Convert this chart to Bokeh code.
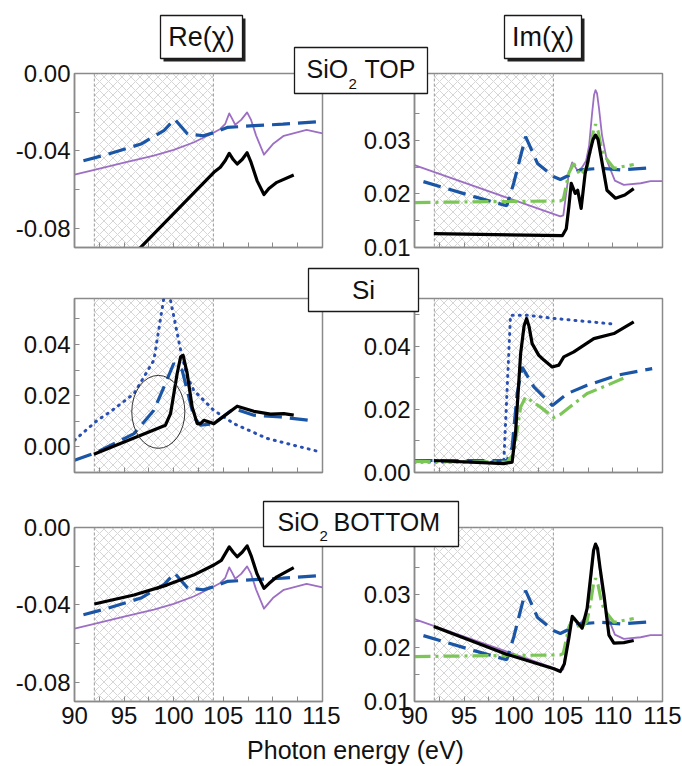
from bokeh.plotting import figure
from bokeh.models import (Range1d, FixedTicker, PrintfTickFormatter, BoxAnnotation,
                          Span, Label, GridBox, CustomJSTickFormatter, Column)
from bokeh.embed import file_html
from bokeh.resources import INLINE

FONT = "Liberation Sans"

# ---------------- data ----------------
X_TICKS = [90, 95, 100, 105, 110, 115]
X_MINOR = [92.5, 97.5, 102.5, 107.5, 112.5]
HATCH_RANGE = [92, 104]

# Re(chi), SiO2 (shared model curves top & bottom)
re_purple_x = [90, 92, 95, 98, 100, 102, 104.05, 104.7, 105.2, 105.6, 105.9, 106.2, 106.8, 107.4, 107.8, 108.3, 109.1, 110.0, 111.1, 113.4, 115]
re_purple_y = [-0.0523, -0.0499, -0.0461, -0.0425, -0.0395, -0.0357, -0.0305, -0.0287, -0.026, -0.0206, -0.0235, -0.0265, -0.024, -0.0201, -0.024, -0.032, -0.042, -0.0365, -0.0322, -0.0292, -0.031]
re_blue_x = [90.9, 93, 96.7, 99.0, 100.1, 101.4, 103.0, 104.05, 105.4, 108.1, 111, 115]
re_blue_y = [-0.0451, -0.0423, -0.0365, -0.0296, -0.0236, -0.0313, -0.0322, -0.0306, -0.0279, -0.027, -0.0262, -0.0248]
re_top_black_x = [92, 104.05, 104.7, 105.2, 105.6, 106.0, 106.4, 106.9, 107.4, 107.8, 108.4, 109.1, 109.6, 110.4, 112.1]
re_top_black_y = [-0.1145, -0.0511, -0.0485, -0.045, -0.0413, -0.0445, -0.0468, -0.0445, -0.041, -0.046, -0.0554, -0.0626, -0.0595, -0.0563, -0.0525]
re_bot_black_x = [92, 96, 99.3, 102, 104.05, 104.8, 105.2, 105.6, 106.0, 106.4, 106.9, 107.4, 107.8, 108.4, 109.1, 109.6, 110.4, 112.1]
re_bot_black_y = [-0.0396, -0.0349, -0.0298, -0.0246, -0.0194, -0.017, -0.0135, -0.010, -0.0128, -0.0151, -0.0128, -0.0095, -0.0145, -0.024, -0.0315, -0.029, -0.0255, -0.0208]

# Im(chi), SiO2
im_purple_x = [90, 104.7, 105.0, 105.56, 105.9, 106.5, 106.9, 107.3, 107.6, 107.9, 108.1, 108.25, 108.4, 108.6, 108.9, 109.4, 110.2, 111.1, 112.8, 113.8, 115]
im_purple_y = [0.0254, 0.0158, 0.016, 0.0239, 0.0259, 0.0242, 0.025, 0.0262, 0.029, 0.035, 0.0385, 0.0394, 0.0388, 0.036, 0.031, 0.0262, 0.0225, 0.0217, 0.022, 0.0224, 0.0224]
im_blue_x = [90.9, 96, 99.3, 100.0, 101.2, 102.4, 104.05, 104.7, 106.7, 108.75, 110.8, 113.8]
im_blue_y = [0.0223, 0.0195, 0.0178, 0.022, 0.0307, 0.0257, 0.0232, 0.0227, 0.0245, 0.0248, 0.0245, 0.0249]
im_green_x = [90, 104.7, 105.0, 105.56, 106.05, 106.7, 107.4, 107.8, 108.05, 108.25, 108.5, 108.8, 109.1, 110.1, 112.1]
im_green_y = [0.0184, 0.0187, 0.019, 0.0239, 0.0257, 0.0235, 0.025, 0.029, 0.032, 0.033, 0.0318, 0.029, 0.0272, 0.0248, 0.0255]
im_top_black_x = [91.95, 104.9, 105.3, 105.56, 105.8, 106.2, 106.45, 106.8, 107.2, 107.7, 108.0, 108.25, 108.5, 108.8, 109.4, 110.26, 111.2, 112.1]
im_top_black_y = [0.0126, 0.0122, 0.0135, 0.0176, 0.022, 0.0201, 0.0207, 0.0173, 0.0238, 0.028, 0.0302, 0.031, 0.0302, 0.027, 0.0207, 0.0192, 0.0198, 0.021]
im_bot_black_x = [91.95, 99.34, 104.05, 104.7, 105.1, 105.56, 105.9, 106.5, 106.9, 107.4, 107.8, 108.05, 108.25, 108.45, 108.7, 109.1, 109.6, 110.1, 111.1, 112.1]
im_bot_black_y = [0.024, 0.0188, 0.0161, 0.0156, 0.017, 0.0218, 0.0259, 0.0246, 0.0237, 0.0274, 0.034, 0.0382, 0.0394, 0.0386, 0.035, 0.0299, 0.0224, 0.0209, 0.021, 0.0214]

# Re(chi), Si
si_re_dot_x = [90, 92.3, 93.6, 96, 98, 99.0, 99.35, 99.68, 100.7, 101.36, 102.03, 104.05, 106.06, 109.42, 114.8]
si_re_dot_y = [0.0026, 0.0104, 0.0137, 0.0208, 0.0339, 0.058, 0.068, 0.0573, 0.0378, 0.0274, 0.0221, 0.0143, 0.0091, 0.0033, -0.002]
si_re_blue_x = [90, 92.3, 96, 98, 99.17, 100.0, 100.85, 102.03, 102.7, 104.05, 106.06, 108.08, 110.77, 113.6]
si_re_blue_y = [-0.0052, -0.002, 0.0052, 0.0143, 0.0248, 0.0326, 0.030, 0.0117, 0.0085, 0.0091, 0.015, 0.0124, 0.0117, 0.0104]
si_re_black_x = [91.95, 99.17, 99.68, 100.35, 100.7, 100.95, 101.36, 101.86, 102.37, 102.7, 103.04, 104.05, 106.4, 108.08, 109.76, 111.1, 112.1]
si_re_black_y = [-0.0029, 0.0085, 0.013, 0.0287, 0.0352, 0.0358, 0.0287, 0.0156, 0.0091, 0.0091, 0.0104, 0.0091, 0.0159, 0.0139, 0.0128, 0.013, 0.0124]

# Im(chi), Si
si_im_dot_x = [90, 99.0, 99.68, 101.36, 104.05, 110.1]
si_im_dot_y = [0.0033, 0.0033, 0.0498, 0.0498, 0.0488, 0.047]
si_im_black_x = [91.95, 99.0, 99.84, 100.18, 100.7, 101.05, 101.3, 101.55, 101.86, 102.53, 103.04, 103.88, 104.55, 105.05, 106.06, 108.08, 110.1, 112.1]
si_im_black_y = [0.0038, 0.0028, 0.0033, 0.0123, 0.0377, 0.0465, 0.0488, 0.0462, 0.0408, 0.0371, 0.0356, 0.0334, 0.034, 0.0366, 0.0382, 0.0424, 0.044, 0.0477]
si_im_blue_x = [90, 99.34, 99.84, 100.35, 100.85, 102.03, 103.9, 105.4, 107.4, 110.43, 113.96]
si_im_blue_y = [0.0038, 0.0038, 0.008, 0.025, 0.0334, 0.0271, 0.0212, 0.025, 0.0276, 0.0308, 0.0329]
si_im_green_x = [90, 99.34, 100.0, 100.7, 101.2, 102.7, 104.05, 104.7, 107.4, 109.4, 111.4]
si_im_green_y = [0.0035, 0.0033, 0.006, 0.0207, 0.0239, 0.0207, 0.0174, 0.0184, 0.025, 0.0276, 0.0303]

# ---------------- styles ----------------
BLACK = "#000000"
BLUE = "#1b55a6"
DOTBLUE = "#2a4fb3"
PURPLE = "#9d6fc4"
GREEN = "#7cc657"
GRAY = "#8a8a8a"

def line_black(p, x, y):
    p.line(x, y, line_color=BLACK, line_width=3.2, line_join="round")

def line_blue(p, x, y):
    p.line(x, y, line_color=BLUE, line_width=3.2, line_dash="18 8")

def line_purple(p, x, y):
    p.line(x, y, line_color=PURPLE, line_width=1.8, line_join="round")

def line_green(p, x, y):
    p.line(x, y, line_color=GREEN, line_width=3.2, line_dash="16 5 3 5")

def line_dot(p, x, y):
    p.line(x, y, line_color=DOTBLUE, line_width=3, line_dash="1 6", line_cap="round")

# layout geometry (page pixels)
COLS = [(340, 74, 18), (342, 74, 20)]                 # width, border_l, border_r
ROWS = [(262, 73, 15), (235, 36, 25), (269, 30, 65)]  # height, border_t, border_b

def make_panel(r, c, yr, yticks, yminor, yfmt, show_xlabels):
    w, bl, br = COLS[c]
    h, bt, bb = ROWS[r]
    p = figure(width=w, height=h, x_range=Range1d(90, 115), y_range=Range1d(*yr),
               output_backend="svg", toolbar_location=None,
               min_border_left=bl, min_border_right=br, min_border_top=bt, min_border_bottom=bb)
    p.grid.visible = False
    p.background_fill_color = "white"
    p.border_fill_color = "white"
    p.outline_line_color = GRAY
    p.outline_line_width = 1.5
    for ax in (p.xaxis[0], p.yaxis[0]):
        ax.axis_line_color = GRAY
        ax.axis_line_width = 1.5
        ax.major_tick_line_color = GRAY
        ax.minor_tick_line_color = GRAY
        ax.major_tick_in = 5
        ax.major_tick_out = 0
        ax.minor_tick_in = 5
        ax.minor_tick_out = 0
        ax.major_label_text_font = FONT
        ax.major_label_text_font_size = "24px"
        ax.major_label_text_color = "#111111"
    p.xaxis.ticker = FixedTicker(ticks=X_TICKS, minor_ticks=X_MINOR)
    p.xaxis.major_label_standoff = 5
    if show_xlabels:
        p.xaxis.formatter = PrintfTickFormatter(format="%d")
    else:
        p.xaxis.formatter = CustomJSTickFormatter(code="return ''")
        p.xaxis.major_label_standoff = 0
    p.yaxis.ticker = FixedTicker(ticks=yticks, minor_ticks=yminor)
    p.yaxis.formatter = PrintfTickFormatter(format=yfmt)
    p.yaxis.major_label_standoff = 4
    # hatched region
    p.add_layout(BoxAnnotation(left=HATCH_RANGE[0], right=HATCH_RANGE[1], level="underlay",
                               fill_alpha=0, line_alpha=0,
                               hatch_pattern="diagonal_cross", hatch_color="#c4c4c4",
                               hatch_weight=0.7, hatch_scale=9))
    for loc in HATCH_RANGE:
        p.add_layout(Span(location=loc, dimension="height", line_color="#9a9a9a",
                          line_width=1, line_dash="3 2", level="underlay"))
    return p

# ---------------- panels ----------------
p1 = make_panel(0, 0, (-0.09, 0.0), [0.0, -0.04, -0.08], [-0.02, -0.06], "%.2f", False)
line_purple(p1, re_purple_x, re_purple_y)
line_blue(p1, re_blue_x, re_blue_y)
line_black(p1, re_top_black_x, re_top_black_y)

p2 = make_panel(0, 1, (0.01, 0.0425), [0.01, 0.02, 0.03], [0.015, 0.025, 0.035], "%.2f", False)
line_purple(p2, im_purple_x, im_purple_y)
line_blue(p2, im_blue_x, im_blue_y)
line_green(p2, im_green_x, im_green_y)
line_black(p2, im_top_black_x, im_top_black_y)

p3 = make_panel(1, 0, (-0.01, 0.058), [0.0, 0.02, 0.04], [0.01, 0.03, 0.05], "%.2f", False)
line_dot(p3, si_re_dot_x, si_re_dot_y)
line_blue(p3, si_re_blue_x, si_re_blue_y)
line_black(p3, si_re_black_x, si_re_black_y)
p3.ellipse(x=[98.45], y=[0.0137], width=[5.35], height=[0.0285], fill_alpha=0,
           line_color="#333333", line_width=1)

p4 = make_panel(1, 1, (0.0, 0.0551), [0.0, 0.02, 0.04], [0.01, 0.03, 0.05], "%.2f", False)
line_dot(p4, si_im_dot_x, si_im_dot_y)
line_blue(p4, si_im_blue_x, si_im_blue_y)
line_green(p4, si_im_green_x, si_im_green_y)
line_black(p4, si_im_black_x, si_im_black_y)

p5 = make_panel(2, 0, (-0.09, 0.0), [0.0, -0.04, -0.08], [-0.02, -0.06], "%.2f", True)
line_purple(p5, re_purple_x, re_purple_y)
line_blue(p5, re_blue_x, re_blue_y)
line_black(p5, re_bot_black_x, re_bot_black_y)

p6 = make_panel(2, 1, (0.01, 0.0425), [0.01, 0.02, 0.03], [0.015, 0.025, 0.035], "%.2f", True)
line_purple(p6, im_purple_x, im_purple_y)
line_blue(p6, im_blue_x, im_blue_y)
line_green(p6, im_green_x, im_green_y)
line_black(p6, im_bot_black_x, im_bot_black_y)

# ---------------- overlay for boxes & texts (page pixel coordinates) ----------------
ov = figure(width=682, height=766, x_range=Range1d(0, 682), y_range=Range1d(766, 0),
            output_backend="svg", toolbar_location=None, min_border=0,
            x_axis_location=None, y_axis_location=None)
ov.grid.visible = False
ov.outline_line_color = None
ov.background_fill_alpha = 0
ov.border_fill_alpha = 0

def add_box(X0, Y0, X1, Y1, shadow=False):
    if shadow:
        ov.add_layout(BoxAnnotation(left=X0 + 3, right=X1 + 3, top=Y0 + 3, bottom=Y1 + 3,
                                    fill_color="#222222", fill_alpha=1, line_alpha=0))
    ov.add_layout(BoxAnnotation(left=X0, right=X1, top=Y0, bottom=Y1,
                                fill_color="white", fill_alpha=1, line_color="#1a1a1a",
                                line_width=1.3, line_alpha=1))

def add_text(X, Y, text, size, align="left"):
    # Y is the vertical middle of the text
    ov.add_layout(Label(x=X, y=Y, text=text, text_font=FONT, text_font_size=f"{size}px",
                        text_color="#111111", text_align=align, text_baseline="middle"))

add_box(160, 15, 242, 58, shadow=True)
add_text(201, 36, "Re(χ)", 27, "center")
add_box(504, 15, 581, 58, shadow=True)
add_text(542.5, 36, "Im(χ)", 27, "center")

add_box(294, 47, 427, 93)
add_text(306, 68, "SiO", 25)
add_text(348, 83, "2", 15)
add_text(364, 68, "TOP", 25)

add_box(308, 268, 418, 311)
add_text(363, 289, "Si", 26, "center")

add_box(263, 501, 458, 546)
add_text(277, 521, "SiO", 25)
add_text(319, 535, "2", 15)
add_text(333, 521, "BOTTOM", 25)

add_text(355, 749, "Photon energy (eV)", 25, "center")

layout = GridBox(children=[(p1, 0, 0), (p2, 0, 1), (p3, 1, 0), (p4, 1, 1), (p5, 2, 0), (p6, 2, 1),
                           (Column(children=[ov]), 0, 0, 3, 2)])
open("out.html", "w").write(file_html(layout, INLINE))
